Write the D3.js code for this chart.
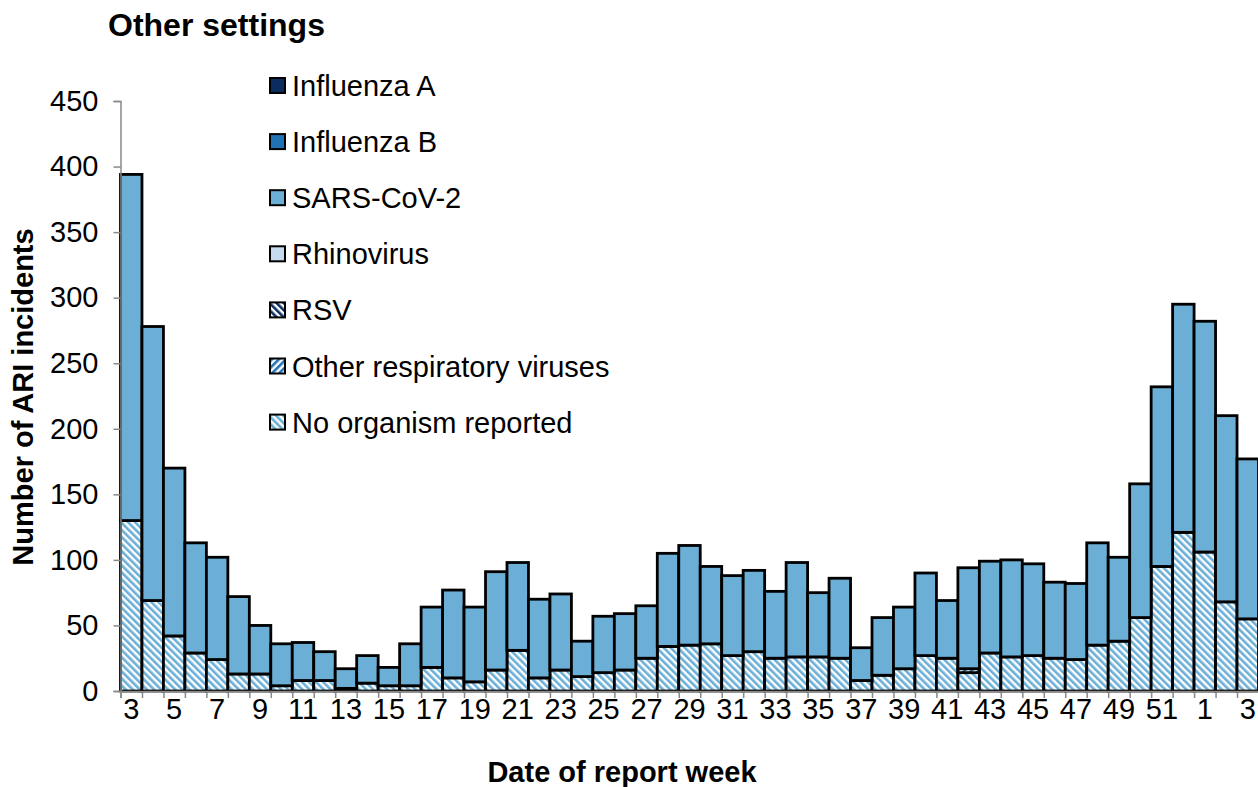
<!DOCTYPE html>
<html><head><meta charset="utf-8">
<script src="https://cdn.jsdelivr.net/npm/d3@7"></script>
<style>body{margin:0;background:#fff}svg{display:block;font-family:"Liberation Sans",Arial,sans-serif}</style>
</head><body><svg id="c" width="1258" height="787"></svg>
<script>
// ---- data ----
const weekLabels = ["3","4","5","6","7","8","9","10","11","12","13","14","15","16","17","18","19","20","21","22","23","24","25","26","27","28","29","30","31","32","33","34","35","36","37","38","39","40","41","42","43","44","45","46","47","48","49","50","51","52","1","2","3"];
const influenzaA = new Array(53).fill(0);
const influenzaB = new Array(53).fill(0);
const rhinovirus = new Array(53).fill(0);
const rsv = new Array(53).fill(0);
const otherResp = [0,0,0,0,0,0,0,0,0,0,0,0,0,0,0,0,0,0,0,0,0,0,0,0,0,0,0,0,0,0,0,0,0,0,0,0,0,0,0,3,0,0,0,0,0,0,0,0,0,0,0,0,0];
const sarsCov2 = [264,209,128,84,78,59,37,32,29,22,15,21,14,32,46,67,57,75,67,60,58,27,43,43,40,71,76,59,61,62,51,72,49,61,25,44,47,63,44,77,70,74,70,58,58,78,64,102,137,174,176,142,122];
const noOrganism = [130,69,42,29,24,13,13,4,8,8,2,6,4,4,18,10,7,16,31,10,16,11,14,16,25,34,35,36,27,30,25,26,26,25,8,12,17,27,25,14,29,26,27,25,24,35,38,56,95,121,106,68,55];
const yTicks = [0,50,100,150,200,250,300,350,400,450];

const seriesNames = ["No organism reported","Other respiratory viruses","RSV","Rhinovirus","SARS-CoV-2","Influenza B","Influenza A"];
const seriesData = [noOrganism, otherResp, rsv, rhinovirus, sarsCov2, influenzaB, influenzaA];
const legendOrder = ["Influenza A","Influenza B","SARS-CoV-2","Rhinovirus","RSV","Other respiratory viruses","No organism reported"];

const svg = d3.select("#c");
const defs = svg.append("defs");
function hatch(id, color, angle){
  const p = defs.append("pattern").attr("id", id).attr("patternUnits","userSpaceOnUse")
    .attr("width", 5).attr("height", 5).attr("patternTransform", `rotate(${angle})`);
  p.append("rect").attr("width",5).attr("height",5).attr("fill","#fff");
  p.append("rect").attr("width",2.6).attr("height",5).attr("fill",color);
}
hatch("pNo", "#6baed6", -45);
hatch("pOther", "#2171b5", 45);
hatch("pRsv", "#0b2c5f", -45);

const fills = {
  "Influenza A": "#0b2c5f",
  "Influenza B": "#2171b5",
  "SARS-CoV-2": "#6baed6",
  "Rhinovirus": "#c6dbef",
  "RSV": "url(#pRsv)",
  "Other respiratory viruses": "url(#pOther)",
  "No organism reported": "url(#pNo)"
};

const plotL = 120.5, plotR = 1258.5, plotT = 101, plotB = 691;
const idx = d3.range(weekLabels.length);
const x = d3.scaleBand().domain(idx).range([plotL, plotR]).padding(0);
const xl = d3.scaleLinear().domain([0, weekLabels.length]).range([plotL, plotR]);
const y = d3.scaleLinear().domain([0, 450]).range([plotB, plotT]);

const rows = idx.map(i => { const r = {i}; seriesNames.forEach((n,k)=> r[n] = seriesData[k][i]); return r; });
const stack = d3.stack().keys(seriesNames)(rows);

const gBars = svg.append("g");
stack.forEach(s => {
  gBars.selectAll(null).data(s.filter(d => d[1]-d[0] > 0)).join("rect")
    .attr("x", d => x(d.data.i)).attr("width", x.bandwidth())
    .attr("y", d => y(d[1])).attr("height", d => y(d[0]) - y(d[1]))
    .attr("fill", fills[s.key]).attr("stroke", "#000").attr("stroke-width", 2.8);
});

// axes
const axisColor = "#888";
const FS = 29;
const yAxis = svg.append("g").attr("transform", `translate(${plotL},0)`)
  .call(d3.axisLeft(y).tickValues(yTicks).tickSize(7).tickPadding(15));
yAxis.select(".domain").attr("stroke", axisColor).attr("stroke-width", 1.5);
yAxis.selectAll(".tick line").attr("stroke", axisColor).attr("stroke-width", 1.5);
yAxis.selectAll(".tick text").attr("font-size", FS).attr("fill", "#000").attr("font-family", "Liberation Sans, Arial, sans-serif");

const xTickAxis = svg.append("g").attr("transform", `translate(0,${plotB})`)
  .call(d3.axisBottom(xl).tickValues(d3.range(weekLabels.length + 1)).tickSize(7).tickFormat(""));
xTickAxis.select(".domain").attr("stroke", axisColor).attr("stroke-width", 1.5);
xTickAxis.selectAll(".tick line").attr("stroke", axisColor).attr("stroke-width", 1.5);

const xLab = svg.append("g").attr("transform", `translate(0,${plotB})`)
  .call(d3.axisBottom(x).tickSize(0).tickPadding(7).tickFormat(i => i % 2 === 0 ? weekLabels[i] : ""));
xLab.select(".domain").remove();
xLab.selectAll(".tick text").attr("font-size", FS).attr("fill", "#000").attr("font-family", "Liberation Sans, Arial, sans-serif");

// titles
svg.append("text").attr("x", 108).attr("y", 36).attr("font-size", 32).attr("font-weight", "bold").text("Other settings");
svg.append("text").attr("x", 622).attr("y", 782).attr("text-anchor", "middle").attr("font-size", FS).attr("font-weight", "bold").text("Date of report week");
svg.append("text").attr("transform", "translate(33,397) rotate(-90)").attr("text-anchor", "middle").attr("font-size", FS).attr("font-weight", "bold").text("Number of ARI incidents");

// legend
const lg = svg.append("g");
legendOrder.forEach((n, k) => {
  const cy = 85.5 + k * 56.1;
  lg.append("rect").attr("x", 270).attr("y", cy - 7.5).attr("width", 15).attr("height", 15)
    .attr("fill", fills[n]).attr("stroke", "#000").attr("stroke-width", 2);
  lg.append("text").attr("x", 292).attr("y", cy + 10.5).attr("font-size", FS).text(n);
});
</script></body></html>
